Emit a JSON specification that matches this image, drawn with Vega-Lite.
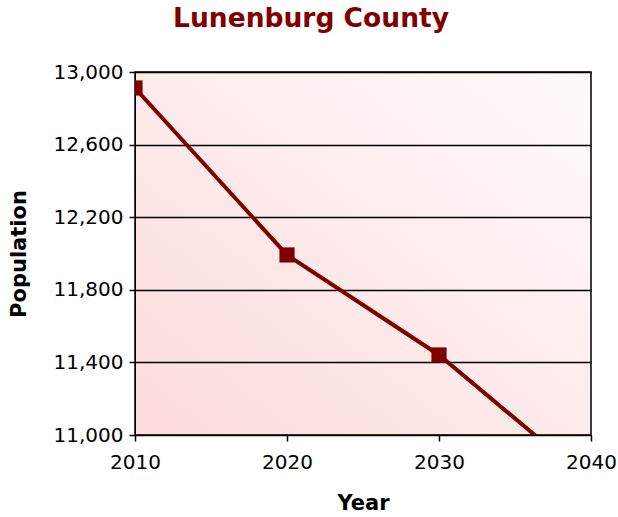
{
  "$schema": "https://vega.github.io/schema/vega-lite/v6.json",
  "width": 456,
  "height": 363,
  "autosize": {"type": "none"},
  "padding": {"left": 135, "top": 72, "right": 27, "bottom": 82},
  "background": "white",
  "title": {
    "text": "Lunenburg County",
    "font": "DejaVu Sans",
    "fontSize": 26.5,
    "fontWeight": "bold",
    "color": "#800000",
    "anchor": "middle",
    "dx": -52,
    "offset": 30
  },
  "data": {
    "values": [
      {"Year": 2010, "Population": 12912},
      {"Year": 2020, "Population": 11992},
      {"Year": 2030, "Population": 11441},
      {"Year": 2040, "Population": 10741}
    ]
  },
  "config": {
    "view": {
      "stroke": "black",
      "strokeWidth": 1.5,
      "fill": {
        "gradient": "linear",
        "x1": 0, "y1": 1, "x2": 1, "y2": 0,
        "stops": [
          {"offset": 0, "color": "#fddcdc"},
          {"offset": 1, "color": "#fffafa"}
        ]
      }
    },
    "axis": {
      "labelFont": "DejaVu Sans",
      "labelFontSize": 20,
      "labelColor": "black",
      "titleFont": "DejaVu Sans",
      "titleFontSize": 21,
      "titleFontWeight": "bold",
      "titleColor": "black",
      "tickColor": "black",
      "tickSize": 6,
      "tickWidth": 1.5,
      "domainColor": "black",
      "gridColor": "black",
      "gridOpacity": 1,
      "gridWidth": 1.5
    }
  },
  "encoding": {
    "x": {
      "field": "Year",
      "type": "quantitative",
      "scale": {"domain": [2010, 2040], "nice": false, "zero": false},
      "axis": {
        "values": [2010, 2020, 2030, 2040],
        "format": "d",
        "grid": false,
        "labelPadding": 11,
        "titlePadding": 20,
        "labelFlush": false
      }
    },
    "y": {
      "field": "Population",
      "type": "quantitative",
      "scale": {"domain": [11000, 13000], "nice": false, "zero": false},
      "axis": {
        "values": [11000, 11400, 11800, 12200, 12600, 13000],
        "format": ",d",
        "labelPadding": 6,
        "titlePadding": 24,
        "labelFlush": false
      }
    }
  },
  "layer": [
    {
      "mark": {"type": "line", "color": "#800000", "strokeWidth": 4, "clip": true}
    },
    {
      "mark": {"type": "point", "shape": "square", "filled": true, "color": "#800000", "size": 230, "opacity": 1, "clip": true}
    }
  ]
}
